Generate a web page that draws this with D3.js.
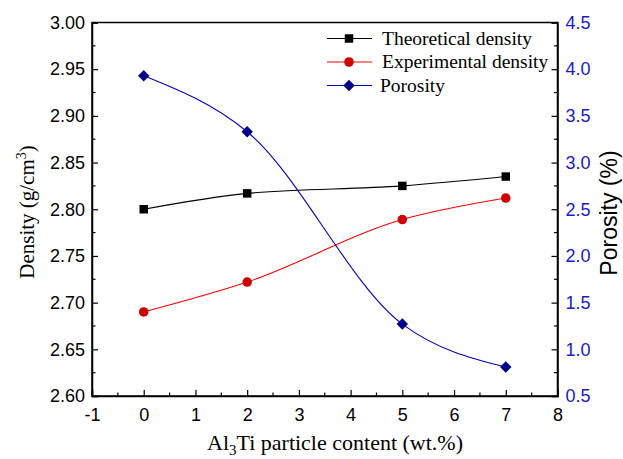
<!DOCTYPE html>
<html>
<head>
<meta charset="utf-8">
<script src="https://cdn.jsdelivr.net/npm/d3@7"></script>
<style>
  body { margin: 0; background: #fff; }
  svg { display: block; }
</style>
</head>
<body>
<div id="chart"></div>
<script>
// data
const content = [0, 2, 5, 7];
const theoretical = [2.800, 2.817, 2.825, 2.835];
const experimental = [2.690, 2.722, 2.789, 2.812];
const porosity = [3.93, 3.33, 1.27, 0.81];

const xTicks = [-1, 0, 1, 2, 3, 4, 5, 6, 7, 8];
const leftTicks = [2.60, 2.65, 2.70, 2.75, 2.80, 2.85, 2.90, 2.95, 3.00];
const rightTicks = [0.5, 1.0, 1.5, 2.0, 2.5, 3.0, 3.5, 4.0, 4.5];

const width = 623, height = 459;
const margin = { top: 22.5, right: 65.5, bottom: 63, left: 92 };

const svg = d3.select("#chart")
  .append("svg")
  .attr("width", width)
  .attr("height", height);

const x = d3.scaleLinear().domain([-1, 8]).range([margin.left, width - margin.right]);
const yL = d3.scaleLinear().domain([2.60, 3.00]).range([height - margin.bottom, margin.top]);
const yR = d3.scaleLinear().domain([0.5, 4.5]).range([height - margin.bottom, margin.top]);

const sans = "'Liberation Sans', Arial, sans-serif";
const serif = "'Liberation Serif', 'Times New Roman', serif";
const blue = "#1a1acc";

// frame
svg.append("rect")
  .attr("x", margin.left)
  .attr("y", margin.top)
  .attr("width", width - margin.right - margin.left)
  .attr("height", height - margin.bottom - margin.top)
  .attr("fill", "none")
  .attr("stroke", "#000")
  .attr("stroke-width", 1.5);

// minor tick helper
const minors = (ticks) => ticks.slice(0, -1).map((t, i) => (t + ticks[i + 1]) / 2);

// bottom axis
const xAxis = svg.append("g")
  .attr("transform", `translate(0,${height - margin.bottom})`)
  .call(d3.axisBottom(x).tickValues(xTicks).tickSize(-6).tickPadding(12).tickFormat(d => String(d)));
xAxis.selectAll(".tick text").attr("font-family", sans).attr("font-size", 18).attr("fill", "#000");
xAxis.append("g").selectAll("line")
  .data(minors(xTicks))
  .join("line")
  .attr("x1", d => x(d)).attr("x2", d => x(d))
  .attr("y1", 0).attr("y2", -3.5)
  .attr("stroke", "#000").attr("stroke-width", 1.2);

// left axis
const yAxisL = svg.append("g")
  .attr("transform", `translate(${margin.left},0)`)
  .call(d3.axisLeft(yL).tickValues(leftTicks).tickSize(-6).tickPadding(7).tickFormat(d3.format(".2f")));
yAxisL.selectAll(".tick text").attr("font-family", sans).attr("font-size", 18).attr("fill", "#000");
yAxisL.append("g").selectAll("line")
  .data(minors(leftTicks))
  .join("line")
  .attr("y1", d => yL(d)).attr("y2", d => yL(d))
  .attr("x1", 0).attr("x2", 3.5)
  .attr("stroke", "#000").attr("stroke-width", 1.2);

// right axis
const yAxisR = svg.append("g")
  .attr("transform", `translate(${width - margin.right},0)`)
  .call(d3.axisRight(yR).tickValues(rightTicks).tickSize(-6).tickPadding(8).tickFormat(d3.format(".1f")));
yAxisR.selectAll(".tick text").attr("font-family", sans).attr("font-size", 18).attr("fill", blue);
yAxisR.append("g").selectAll("line")
  .data(minors(rightTicks))
  .join("line")
  .attr("y1", d => yR(d)).attr("y2", d => yR(d))
  .attr("x1", 0).attr("x2", -3.5)
  .attr("stroke", "#000").attr("stroke-width", 1.2);

[xAxis, yAxisL, yAxisR].forEach(g => {
  g.select(".domain").attr("stroke", "#000").attr("stroke-width", 1.5);
  g.selectAll(".tick line").attr("stroke", "#000").attr("stroke-width", 1.2);
});

// series
const series = [
  { name: "Theoretical density", values: theoretical, y: yL, color: "#000", marker: "square" },
  { name: "Experimental density", values: experimental, y: yL, color: "#ff0000", fill: "#cc0000", marker: "circle" },
  { name: "Porosity", values: porosity, y: yR, color: "#0000bb", fill: "#00008b", marker: "diamond" }
];

// diamond = square turned 45 degrees
const symbolFor = m => m === "circle" ? d3.symbolCircle : d3.symbolSquare;
const sizeFor = m => m === "square" ? 72 : m === "circle" ? 72 : 66;
const rot = m => m === "diamond" ? " rotate(45)" : "";

series.forEach(s => {
  const pts = content.map((c, i) => [x(c), s.y(s.values[i])]);
  svg.append("path")
    .datum(pts)
    .attr("fill", "none")
    .attr("stroke", s.color)
    .attr("stroke-width", 1.1)
    .attr("d", d3.line().curve(d3.curveMonotoneX));
  svg.append("g").selectAll("path")
    .data(pts)
    .join("path")
    .attr("transform", d => `translate(${d[0]},${d[1]})${rot(s.marker)}`)
    .attr("d", d3.symbol().type(symbolFor(s.marker)).size(sizeFor(s.marker)))
    .attr("fill", s.fill || s.color);
});

// legend
const legend = svg.append("g").attr("transform", "translate(327,38.5)");
series.forEach((s, i) => {
  const row = legend.append("g").attr("transform", `translate(0,${i * 23.5})`);
  row.append("line")
    .attr("x1", 0).attr("x2", 45)
    .attr("stroke", s.color).attr("stroke-width", 1.1);
  row.append("path")
    .attr("transform", `translate(22,0)${rot(s.marker)}`)
    .attr("d", d3.symbol().type(symbolFor(s.marker)).size(sizeFor(s.marker)))
    .attr("fill", s.fill || s.color);
  row.append("text")
    .attr("x", i === 2 ? 53 : 55)
    .attr("y", 6)
    .attr("font-family", serif)
    .attr("font-size", 19.5)
    .text(s.name);
});

// axis titles
const bt = svg.append("text")
  .attr("x", 335)
  .attr("y", 450)
  .attr("text-anchor", "middle")
  .attr("font-family", serif)
  .attr("font-size", 22);
bt.append("tspan").text("Al");
bt.append("tspan").attr("font-size", 15).attr("dy", 5).text("3");
bt.append("tspan").attr("dy", -5).text("Ti particle content (wt.%)");

const lt = svg.append("text")
  .attr("transform", "translate(34,212) rotate(-90)")
  .attr("text-anchor", "middle")
  .attr("font-family", serif)
  .attr("font-size", 21);
lt.append("tspan").text("Density (g/cm");
lt.append("tspan").attr("font-size", 14).attr("dy", -8).text("3");
lt.append("tspan").attr("dy", 8).text(")");

svg.append("text")
  .attr("transform", "translate(617,213) rotate(-90)")
  .attr("text-anchor", "middle")
  .attr("font-family", sans)
  .attr("font-size", 23)
  .text("Porosity (%)");
</script>
</body>
</html>
